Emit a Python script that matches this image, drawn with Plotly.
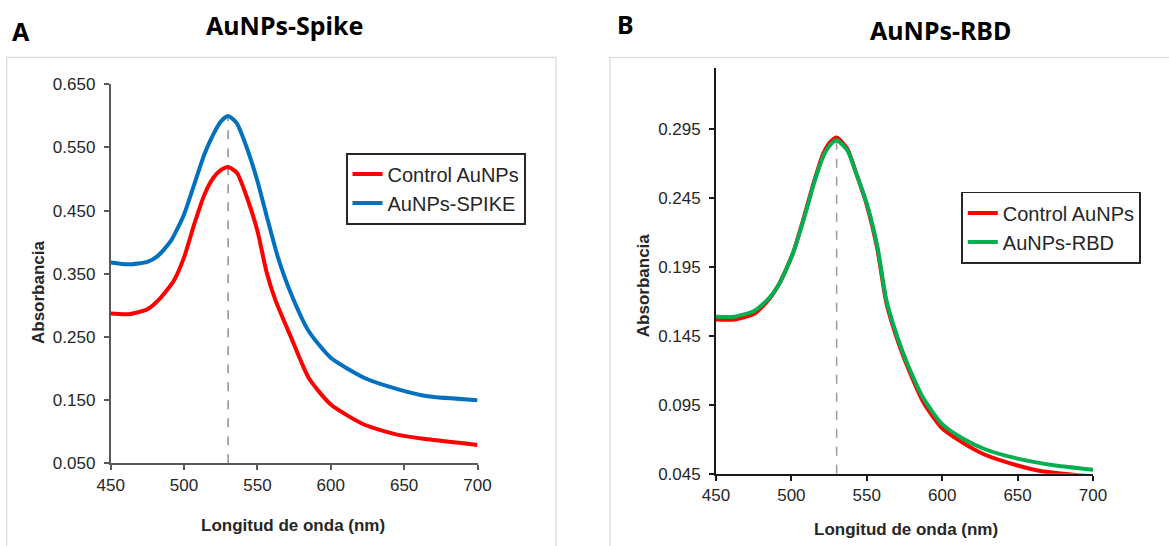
import plotly.graph_objects as go

# ---------------- data ----------------
# Panel A: AuNPs-Spike
wl_a_ctrl = [450, 462, 475, 484, 493, 500, 507, 514, 520, 525, 530, 536, 543, 550, 556, 562, 573, 585, 600, 623, 646, 666, 700]
abs_a_ctrl = [0.287, 0.286, 0.294, 0.312, 0.339, 0.376, 0.429, 0.476, 0.502, 0.514, 0.519, 0.510, 0.470, 0.418, 0.355, 0.310, 0.249, 0.185, 0.143, 0.111, 0.095, 0.088, 0.079]

wl_a_spike = [450, 462, 475, 482, 491, 500, 507, 514, 520, 525, 530, 536, 543, 550, 556, 564, 573, 585, 600, 623, 646, 666, 700]
abs_a_spike = [0.368, 0.365, 0.369, 0.378, 0.402, 0.444, 0.492, 0.540, 0.571, 0.591, 0.600, 0.588, 0.548, 0.497, 0.444, 0.376, 0.318, 0.259, 0.217, 0.185, 0.167, 0.156, 0.150]

# Panel B: AuNPs-RBD
wl_b_ctrl = [450, 462, 475, 484, 492, 501, 508, 515, 521, 526, 530, 537, 543, 550, 557, 563, 571, 578, 588, 600, 613, 628, 650, 665, 680, 700]
abs_b_ctrl = [0.157, 0.157, 0.161, 0.170, 0.183, 0.205, 0.230, 0.257, 0.277, 0.286, 0.289, 0.281, 0.263, 0.240, 0.208, 0.169, 0.140, 0.120, 0.096, 0.078, 0.068, 0.059, 0.051, 0.047, 0.045, 0.043]

wl_b_rbd = [450, 462, 475, 484, 492, 501, 508, 515, 521, 526, 530, 537, 543, 550, 557, 563, 571, 578, 588, 600, 613, 628, 650, 675, 700]
abs_b_rbd = [0.159, 0.159, 0.163, 0.171, 0.183, 0.205, 0.229, 0.256, 0.275, 0.284, 0.287, 0.280, 0.263, 0.241, 0.210, 0.171, 0.142, 0.122, 0.099, 0.081, 0.071, 0.063, 0.056, 0.051, 0.048]

peak_nm = 530
peak_top_a = 0.600
peak_top_b = 0.287

x_ticks = [450, 500, 550, 600, 650, 700]
y_ticks_a = [0.050, 0.150, 0.250, 0.350, 0.450, 0.550, 0.650]
y_ticks_b = [0.045, 0.095, 0.145, 0.195, 0.245, 0.295]

# ---------------- figure ----------------
W, H = 1169, 546
def px(x):
    return x / W
def py(y):
    return 1 - y / H

RED = "#FF0000"
BLUE = "#0070C0"
GREEN = "#00B050"
LW = 4

fig = go.Figure()
def add(xs, ys, name, color, xa, ya, leg):
    fig.add_trace(go.Scatter(x=xs, y=ys, mode="lines", name=name,
                             line=dict(color=color, width=LW, shape="spline", smoothing=0.6),
                             xaxis=xa, yaxis=ya, legend=leg, hoverinfo="skip"))

add(wl_a_ctrl, abs_a_ctrl, "Control AuNPs", RED, "x", "y", "legend")
add(wl_a_spike, abs_a_spike, "AuNPs-SPIKE", BLUE, "x", "y", "legend")
add(wl_b_ctrl, abs_b_ctrl, "Control AuNPs", RED, "x2", "y2", "legend2")
add(wl_b_rbd, abs_b_rbd, "AuNPs-RBD", GREEN, "x2", "y2", "legend2")

ARIAL = "Liberation Sans, Arial, sans-serif"
tickfont = dict(family=ARIAL, size=17, color="#262626")
titlefont = dict(family=ARIAL, size=17, color="#262626", weight="bold")

def xaxis_cfg(domain, anchor, color):
    return dict(domain=domain, anchor=anchor, range=[450, 700], tickvals=x_ticks,
                showgrid=False, zeroline=False, showline=True, linecolor=color, linewidth=1.8,
                ticks="outside", ticklen=5, tickcolor=color, tickwidth=1.8,
                ticklabelstandoff=0,
                tickfont=tickfont, fixedrange=True, automargin=False)

def yaxis_cfg(domain, anchor, rng, vals, color):
    return dict(domain=domain, anchor=anchor, range=rng, tickvals=vals, tickformat=".3f",
                showgrid=False, zeroline=False, showline=True, linecolor=color, linewidth=1.8,
                ticks="outside", ticklen=5, tickcolor=color, tickwidth=1.8,
                ticklabelstandoff=5,
                tickfont=tickfont, fixedrange=True, automargin=False)

legfont = dict(family=ARIAL, size=20, color="#262626")

fig.update_layout(
    width=W, height=H,
    margin=dict(l=0, r=0, t=0, b=0, pad=0, autoexpand=False),
    paper_bgcolor="white", plot_bgcolor="white",
    xaxis=xaxis_cfg([px(110.7), px(477.5)], "y", "#595959"),
    yaxis=yaxis_cfg([py(463.3), py(84.3)], "x", [0.050, 0.650], y_ticks_a, "#595959"),
    xaxis2=xaxis_cfg([px(716), px(1093)], "y2", "#1a1a1a"),
    yaxis2=yaxis_cfg([py(473.8), py(68)], "x2", [0.045, 0.3395], y_ticks_b, "#1a1a1a"),
    legend=dict(x=px(345.7), y=py(152.7), xanchor="left", yanchor="top",
                bordercolor="#262626", borderwidth=1.8, bgcolor="white",
                font=legfont),
    legend2=dict(x=px(961), y=py(191.6), xanchor="left", yanchor="top",
                 bordercolor="#262626", borderwidth=1.8, bgcolor="white",
                 font=legfont),
    showlegend=True,
)

# peak markers (dashed vertical lines)
fig.add_shape(type="line", xref="x", yref="y", x0=peak_nm, x1=peak_nm, y0=0.050, y1=peak_top_a,
              line=dict(color="#595959", width=1, dash="dash"), layer="below")
fig.add_shape(type="line", xref="x2", yref="y2", x0=peak_nm, x1=peak_nm, y0=0.045, y1=peak_top_b,
              line=dict(color="#9a9a9a", width=1.5, dash="dash"), layer="below")

# panel frames
fig.add_shape(type="rect", xref="paper", yref="paper", x0=px(6.7), x1=px(556), y0=-0.02, y1=py(57.3),
              line=dict(color="#d9d9d9", width=1.2))
fig.add_shape(type="rect", xref="paper", yref="paper", x0=px(610), x1=1.02, y0=-0.02, y1=py(57.5),
              line=dict(color="#d9d9d9", width=1.2))

# axis titles
for (xx, yy, txt, ang) in [(38, 292, "Absorbancia", -90), (643.5, 285.7, "Absorbancia", -90),
                           (293.3, 525, "Longitud de onda (nm)", 0), (906, 529, "Longitud de onda (nm)", 0)]:
    fig.add_annotation(x=px(xx), y=py(yy), xref="paper", yref="paper", text=txt, textangle=ang,
                       showarrow=False, font=titlefont, xanchor="center", yanchor="middle")

# titles and panel letters
hdr = dict(family="Noto Sans, Open Sans, sans-serif", size=25, color="black", weight="bold")
fig.add_annotation(x=px(284.5), y=py(25), xref="paper", yref="paper", text="AuNPs-Spike",
                   showarrow=False, font=hdr, xanchor="center", yanchor="middle")
fig.add_annotation(x=px(940.5), y=py(29.6), xref="paper", yref="paper", text="AuNPs-RBD",
                   showarrow=False, font=hdr, xanchor="center", yanchor="middle")
fig.add_annotation(x=px(20.5), y=py(31), xref="paper", yref="paper", text="A",
                   showarrow=False, font=hdr, xanchor="center", yanchor="middle")
fig.add_annotation(x=px(625), y=py(24), xref="paper", yref="paper", text="B",
                   showarrow=False, font=hdr, xanchor="center", yanchor="middle")

# remove the default 8px page margin so the figure sits at the window origin
fig.write_html("out.html", config={"displayModeBar": False},
               post_script="document.body.style.margin='0';")
